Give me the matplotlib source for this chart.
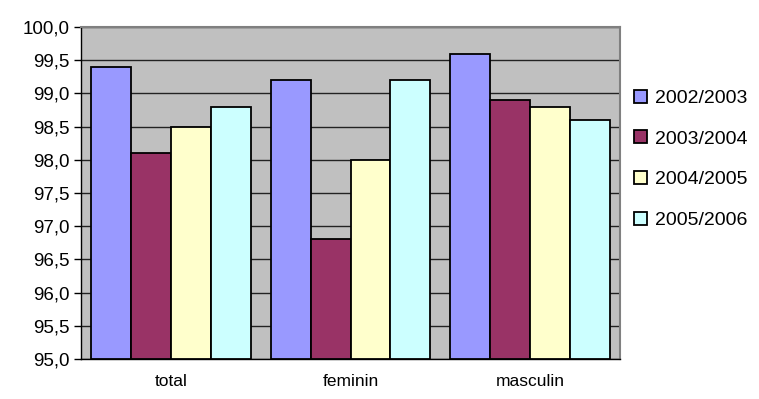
import matplotlib
matplotlib.use("Agg")
import matplotlib.pyplot as plt
import numpy as np

categories = ["total", "feminin", "masculin"]
series_labels = ["2002/2003", "2003/2004", "2004/2005", "2005/2006"]
values_0203 = [99.4, 99.2, 99.6]
values_0304 = [98.1, 96.8, 98.9]
values_0405 = [98.5, 98.0, 98.8]
values_0506 = [98.8, 99.2, 98.6]
y_ticks = [95.0, 95.5, 96.0, 96.5, 97.0, 97.5, 98.0, 98.5, 99.0, 99.5, 100.0]

colors = ["#9999FF", "#993366", "#FFFFCC", "#CCFFFF"]

plt.rcParams["font.family"] = ["Liberation Sans", "DejaVu Sans"]

fig = plt.figure(figsize=(7.59, 3.99), dpi=100)
ax = fig.add_axes([0.1067, 0.1003, 0.7102, 0.832])
ax.set_facecolor("#C0C0C0")

series = [values_0203, values_0304, values_0405, values_0506]
x = np.arange(len(categories))
bar_w = 0.89 / 4
base = 95.0
for i, (vals, lab, col) in enumerate(zip(series, series_labels, colors)):
    pos = x - 0.445 + bar_w * (i + 0.5)
    heights = [v - base for v in vals]
    ax.bar(pos, heights, bar_w, bottom=base, color=col, edgecolor="black",
           linewidth=1.3, label=lab, zorder=3)

ax.set_xlim(-0.5, 2.5)
ax.set_ylim(95, 100)
ax.set_yticks(y_ticks)
ax.set_yticklabels([f"{t:.1f}".replace(".", ",") for t in y_ticks], fontsize=13.5)
ax.set_xticks(x)
ax.set_xticklabels(categories, fontsize=12.5)
ax.tick_params(axis="x", length=0, pad=11)
ax.tick_params(axis="y", direction="out", length=5, width=1, color="black", pad=3)
ax.yaxis.grid(True, color="#222222", linewidth=1, zorder=0)
ax.set_axisbelow(True)

for s in ["top", "right"]:
    ax.spines[s].set_color("#808080")
    ax.spines[s].set_linewidth(1.5)
for s in ["left", "bottom"]:
    ax.spines[s].set_color("black")
    ax.spines[s].set_linewidth(1)

leg = ax.legend(loc="upper left", bbox_to_anchor=(1.012, 0.835), frameon=False,
                fontsize=14, handlelength=0.65, handleheight=0.65,
                labelspacing=1.2, handletextpad=0.4, borderaxespad=0)

fig.savefig("out.png", dpi=100)
